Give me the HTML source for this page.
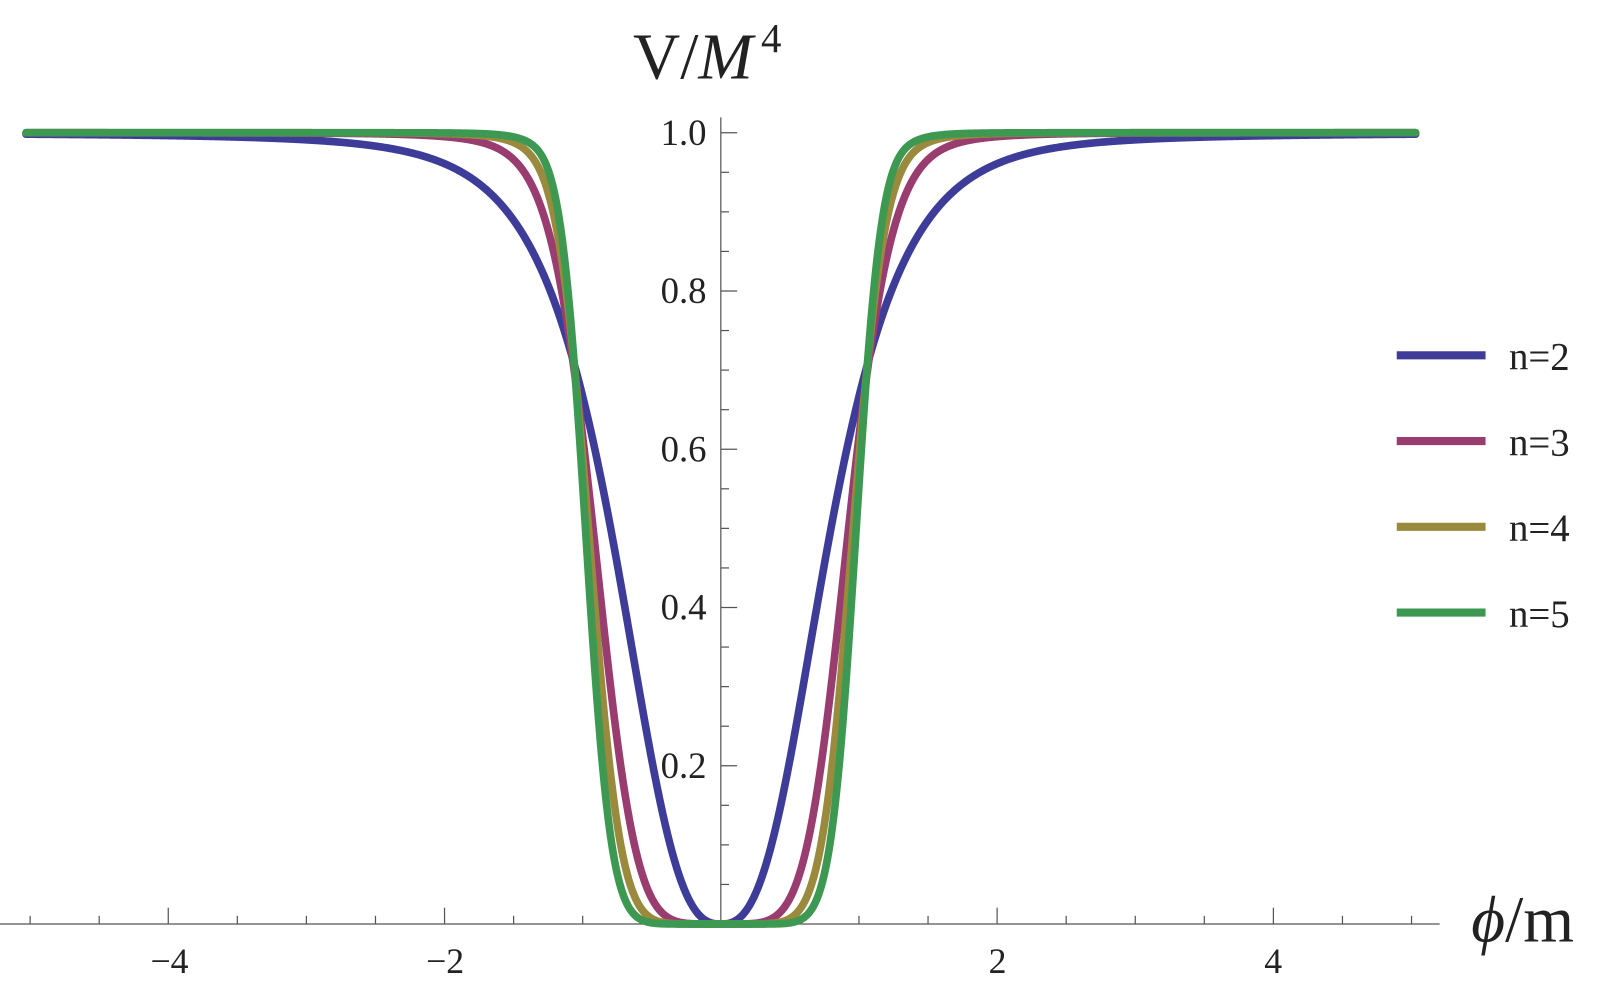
<!DOCTYPE html>
<html><head><meta charset="utf-8"><style>
html,body{margin:0;padding:0;background:#fff;}
svg{display:block;}
text{font-family:"Liberation Serif",serif;fill:#222;}
</style></head><body>
<svg width="1600" height="981" viewBox="0 0 1600 981" xmlns="http://www.w3.org/2000/svg">
<g transform="scale(1.021)">
<g stroke="#555" stroke-width="1.2" fill="none" id="ax">
<line x1="706" y1="115" x2="706" y2="905"/>
<line x1="0" y1="905" x2="1410" y2="905"/>
</g>
<g id="curves" fill="none" stroke-width="7.5" stroke-linejoin="round" stroke-linecap="round"></g>
<g font-size="36" text-anchor="end">
<text x="692" y="142">1.0</text>
<text x="692" y="297">0.8</text>
<text x="692" y="452">0.6</text>
<text x="692" y="607">0.4</text>
<text x="692" y="762">0.2</text>
</g>
<g font-size="35" text-anchor="middle">
<text x="166" y="953">−4</text>
<text x="436" y="953">−2</text>
<text x="977" y="953">2</text>
<text x="1247" y="953">4</text>
</g>
<text x="620" y="77" font-size="64">V/<tspan font-style="italic">M</tspan><tspan font-size="40" dy="-26" dx="8">4</tspan></text>
<text x="1441" y="922" font-size="64"><tspan font-style="italic">ϕ</tspan>/m</text>
<g stroke-width="8">
<line x1="1368" y1="348" x2="1455" y2="348" stroke="#3d3d99"/>
<line x1="1368" y1="432" x2="1455" y2="432" stroke="#993d71"/>
<line x1="1368" y1="516" x2="1455" y2="516" stroke="#998a3d"/>
<line x1="1368" y1="600" x2="1455" y2="600" stroke="#3d9951"/>
</g>
<g font-size="38">
<text x="1478" y="362">n=2</text>
<text x="1478" y="446">n=3</text>
<text x="1478" y="530">n=4</text>
<text x="1478" y="614">n=5</text>
</g>
</g>
</svg>
<script>
var ns="http://www.w3.org/2000/svg",ax=document.getElementById('ax'),cv=document.getElementById('curves');
function ln(x1,y1,x2,y2){var l=document.createElementNS(ns,'line');l.setAttribute('x1',x1);l.setAttribute('y1',y1);l.setAttribute('x2',x2);l.setAttribute('y2',y2);ax.appendChild(l);}
for(var i=1;i<=20;i++){var y=905-775*i*0.05;ln(706,y,706+(i%4==0?16:8),y);}
for(var k=-10;k<=10;k++){if(k==0)continue;var x=706+135.3*k*0.5;ln(x,905,x,905-(k%4==0?16:8));}
var P=[[3.0,1.17,1.2,1.19,'#3d3d99',0.95],[5.9,1.135,2.4,1.09,'#993d71',0.98],[8.2,1.115,3.4,1.03,'#998a3d',0.99],[10.5,1.10,4.4,0.98,'#3d9951',0.99]];
P.forEach(function(p){var d='';for(var i=0;i<=2000;i++){var ph=-5.03+10.06*i/2000,a=Math.abs(ph)*p[5];var u=4*Math.pow(a/p[1],p[0]);var V1=u/(1+u);var t=Math.tanh(p[3]*Math.pow(a,p[2]));var V=0.5*(V1+t*t);var x=706+135.3*ph,y=905-775*V;d+=(i?'L':'M')+x.toFixed(2)+' '+y.toFixed(2);}
var e=document.createElementNS(ns,'path');e.setAttribute('d',d);e.setAttribute('stroke',p[4]);cv.appendChild(e);});
</script>
</body></html>
